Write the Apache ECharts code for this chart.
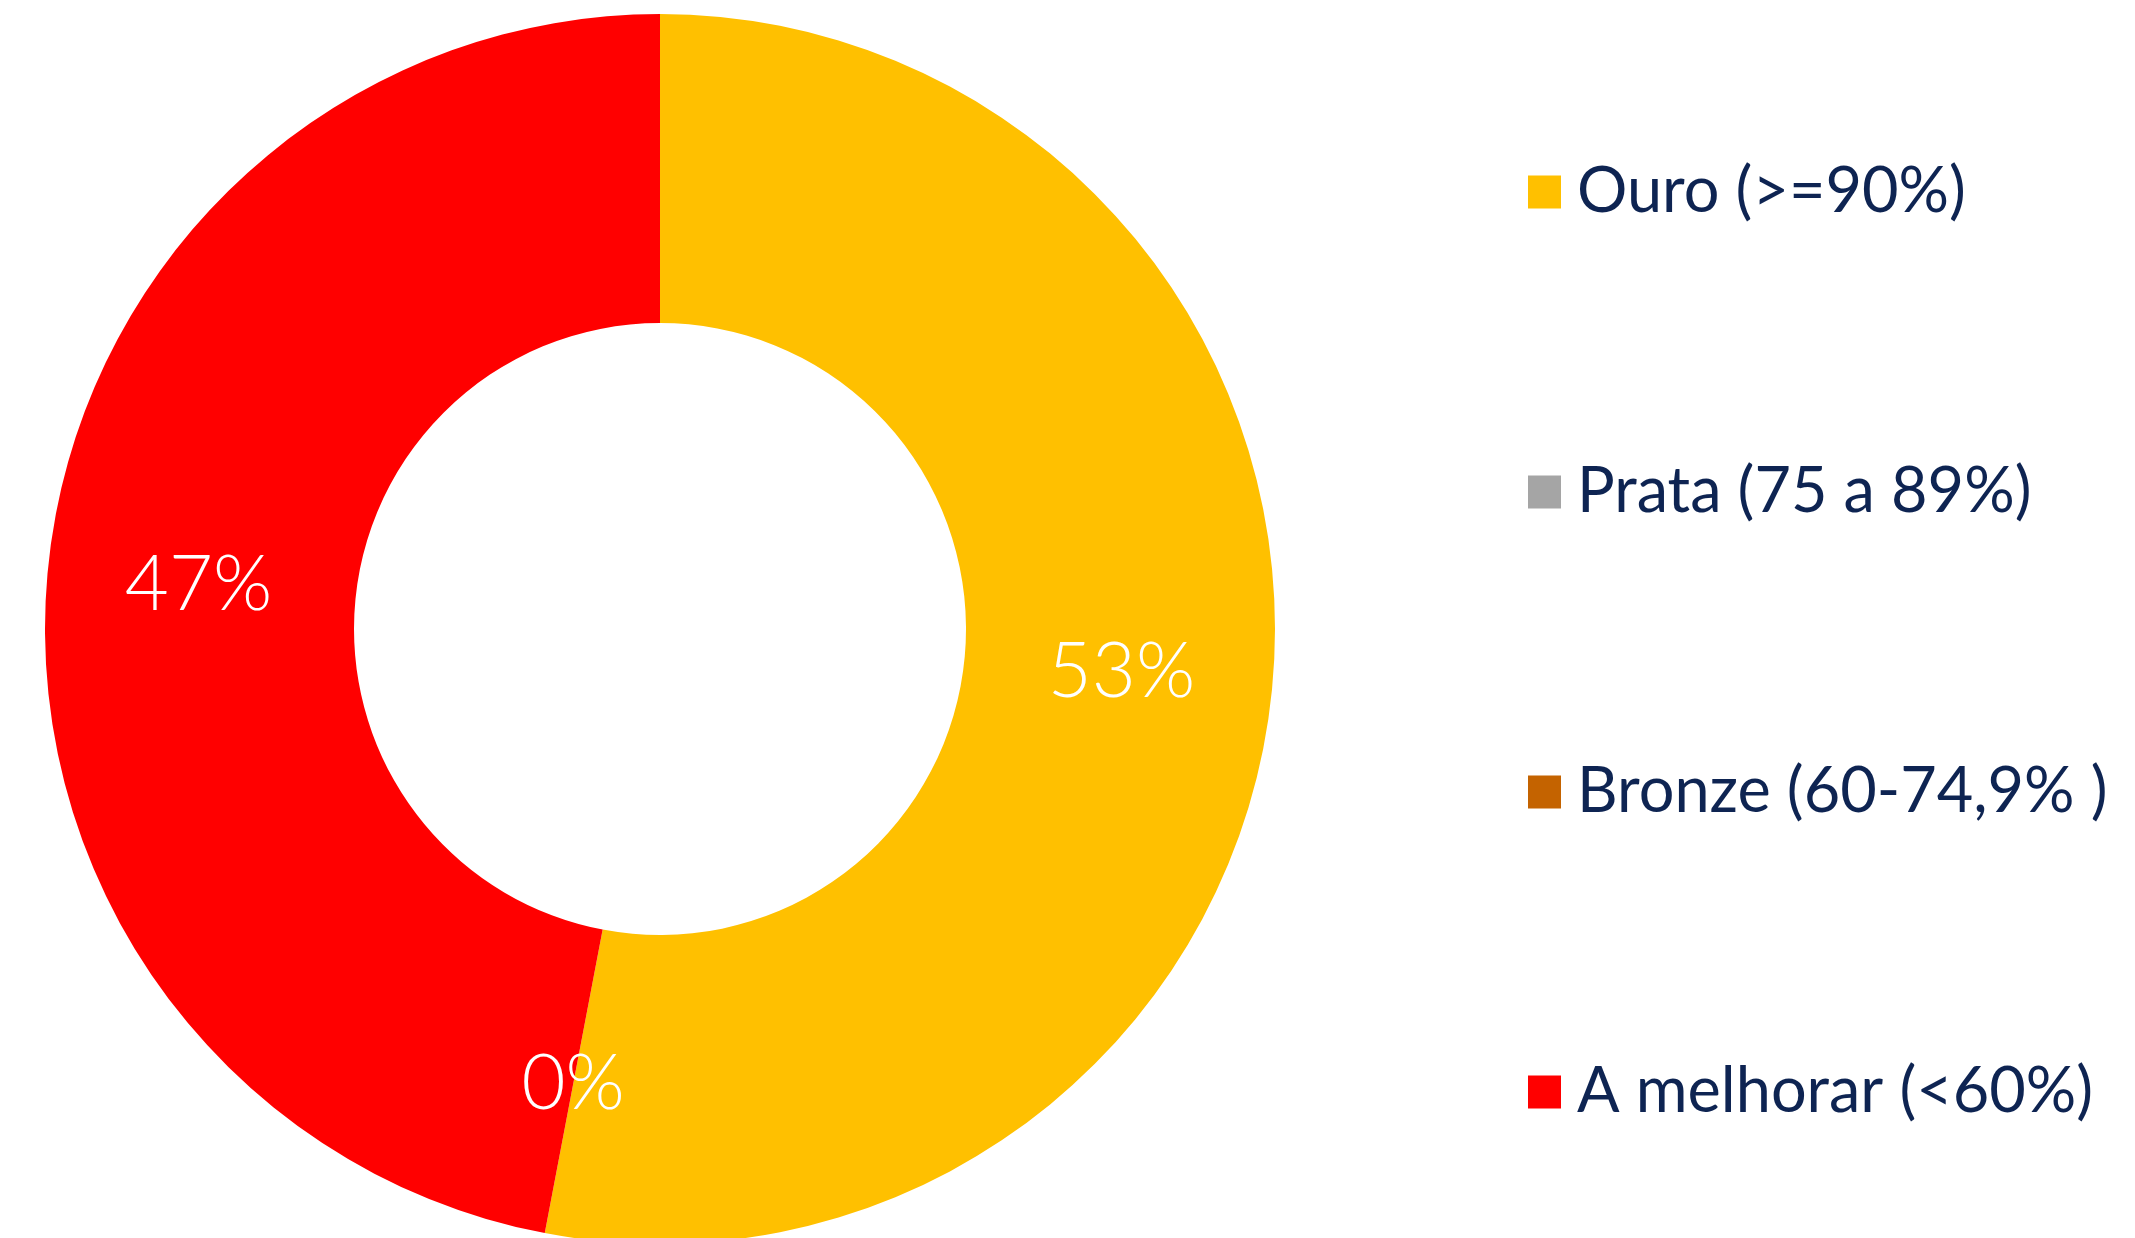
<!DOCTYPE html>
<html>
<head>
<meta charset="utf-8">
<script src="https://cdn.jsdelivr.net/npm/echarts@6/dist/echarts.min.js"></script>
<style>
  html, body { margin: 0; padding: 0; background: #ffffff; }
  #chart { width: 2135px; height: 1238px; }
</style>
</head>
<body>
<div id="chart"></div>
<script>
// Performance bands and their share of results
const categories = ['Ouro (>=90%)', 'Prata (75 a 89%)', 'Bronze (60-74,9% )', 'A melhorar (<60%)'];
const shares = [53, 0, 0, 47];
const colors = ['#FFC000', '#A5A5A5', '#C46300', '#FF0000'];

const chart = echarts.init(document.getElementById('chart'), null, { renderer: 'canvas' });

const pieData = categories.map((name, i) => ({
  name: name,
  value: shares[i],
  itemStyle: { color: colors[i] }
}));

chart.setOption({
  animation: false,
  backgroundColor: '#ffffff',
  legend: {
    orient: 'vertical',
    left: 1523,
    top: 152,
    icon: 'rect',
    itemWidth: 33,
    itemHeight: 33,
    itemGap: 230,
    selectedMode: false,
    data: categories,
    textStyle: {
      fontFamily: 'Lato',
      fontSize: 63,
      lineHeight: 70,
      color: '#0E2452',
      padding: [0, 0, 0, 11]
    }
  },
  series: [{
    type: 'pie',
    center: [660, 629],
    radius: [306, 615],
    startAngle: 90,
    clockwise: true,
    avoidLabelOverlap: false,
    minShowLabelAngle: 0,
    label: {
      show: true,
      position: 'inside',
      formatter: '{c}%',
      color: '#ffffff',
      fontFamily: 'Lato',
      fontWeight: 300,
      fontSize: 76
    },
    labelLine: { show: false },
    emphasis: { disabled: true },
    itemStyle: { borderWidth: 0 },
    data: pieData
  }]
});
</script>
</body>
</html>
